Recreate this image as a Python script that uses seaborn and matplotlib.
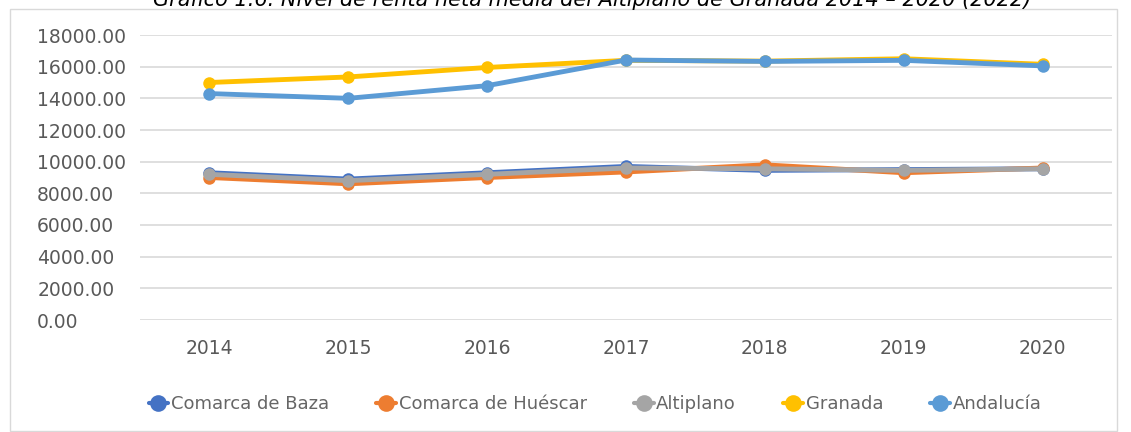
import pandas as pd
import matplotlib.pyplot as plt
import matplotlib.patches as mpatches
import seaborn as sns

# --- data ---
years = [2014, 2015, 2016, 2017, 2018, 2019, 2020]
baza = [9300, 8900, 9300, 9700, 9450, 9500, 9550]
huescar = [9000, 8600, 9000, 9350, 9800, 9300, 9600]
altiplano = [9200, 8800, 9200, 9600, 9550, 9450, 9550]
granada = [15000, 15350, 15950, 16400, 16350, 16500, 16150]
andalucia = [14300, 14000, 14800, 16420, 16330, 16400, 16050]

series_names = ["Comarca de Baza", "Comarca de Huéscar", "Altiplano", "Granada", "Andalucía"]
series_values = [baza, huescar, altiplano, granada, andalucia]
colors = ["#4472C4", "#ED7D31", "#A5A5A5", "#FFC000", "#5B9BD5"]
y_ticks = [0, 2000, 4000, 6000, 8000, 10000, 12000, 14000, 16000, 18000]

df = pd.DataFrame(
    [(n, y, v) for n, vals in zip(series_names, series_values) for y, v in zip(years, vals)],
    columns=["serie", "year", "value"],
)

sns.set_theme(style="white")
plt.rcParams["font.family"] = ["DejaVu Sans"]

fig = plt.figure(figsize=(11.31, 4.32), dpi=100)
ax = fig.add_axes([140 / 1131, (432 - 320) / 432, (1112 - 140) / 1131, 285 / 432])

sns.lineplot(
    data=df, x="year", y="value", hue="serie", hue_order=series_names,
    palette=colors, marker="o", markersize=9, markeredgewidth=0,
    linewidth=3.5, ax=ax, legend=False,
)

ax.set_xlim(2013.5, 2020.5)
ax.set_ylim(0, 18000)
ax.set_xticks(years)
ax.set_xticklabels([str(y) for y in years])
ax.set_yticks(y_ticks)
ax.set_yticklabels([f"{t:.2f}" for t in y_ticks])
ax.tick_params(axis="both", length=0, labelsize=13.5, labelcolor="#595959")
ax.tick_params(axis="y", pad=74)
for lbl in ax.get_yticklabels():
    lbl.set_horizontalalignment("left")
ax.tick_params(axis="x", pad=14)
ax.set_xlabel("")
ax.set_ylabel("")
ax.grid(axis="y", color="#d9d9d9", linewidth=1.2)
for s in ax.spines.values():
    s.set_visible(False)

# legend
handles = [
    plt.Line2D([], [], color=c, marker="o", markersize=12, linewidth=3, markeredgewidth=0)
    for c in colors
]
fig.legend(
    handles, series_names, loc="center", bbox_to_anchor=(595 / 1131, (432 - 404) / 432),
    ncol=5, frameon=False, fontsize=13, handlelength=1.1, handletextpad=0.15,
    columnspacing=2.6, labelcolor="#666666",
)

# chart border
fig.patches.append(mpatches.Rectangle(
    (10 / 1131, 1 / 432), 1107 / 1131, 422 / 432, transform=fig.transFigure,
    fill=False, edgecolor="#d9d9d9", linewidth=1,
))

# title, cut off at the top in the reference
fig.text(592 / 1131, 1 - 6 / 432, "Gráfico 1.6. Nivel de renta neta media del Altiplano de Granada 2014 – 2020 (2022)",
         ha="center", va="baseline", fontsize=15, fontstyle="italic", color="#000000")

fig.savefig("out.png", dpi=100)
